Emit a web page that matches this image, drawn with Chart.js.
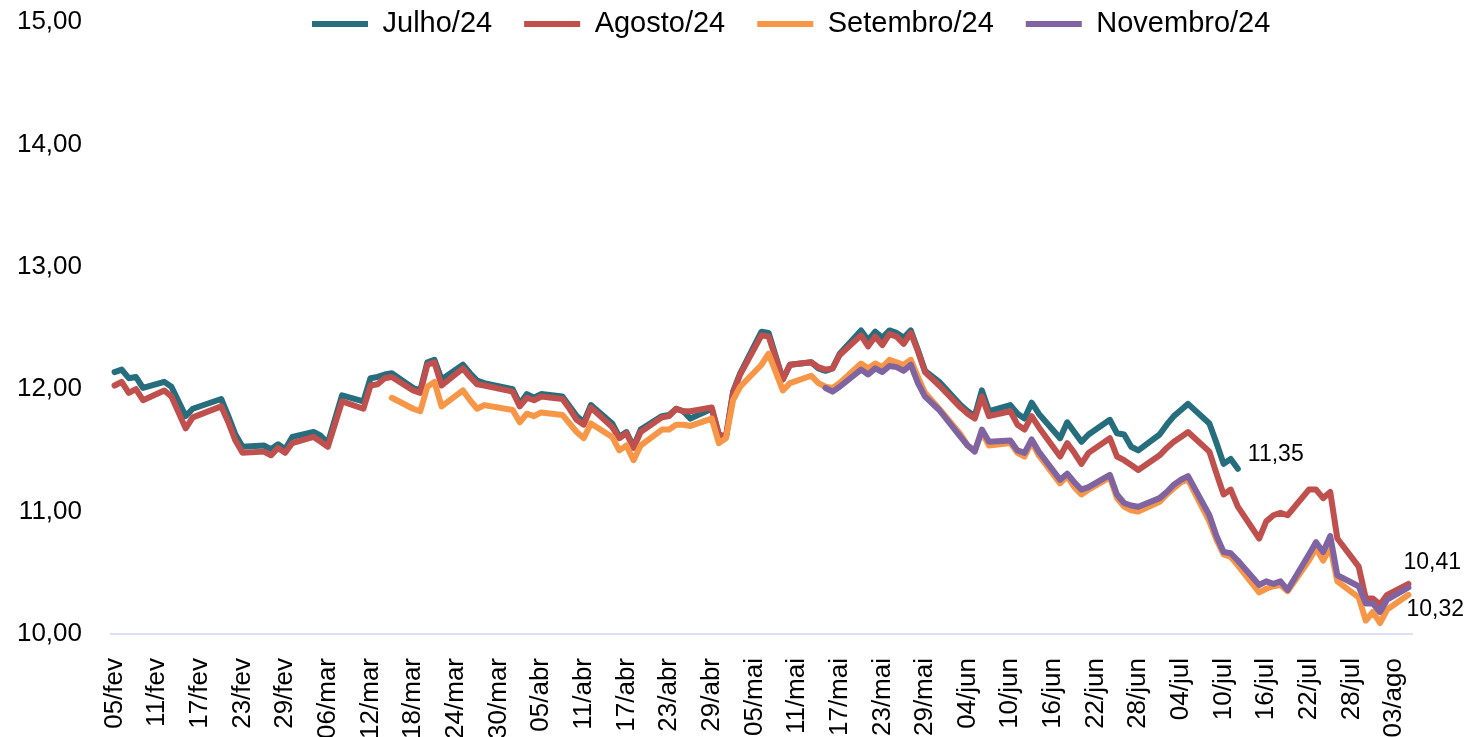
<!DOCTYPE html>
<html>
<head>
<meta charset="utf-8">
<script src="https://cdn.jsdelivr.net/npm/chart.js@4.4.1/dist/chart.umd.min.js"></script>
<style>
  html, body { margin: 0; padding: 0; background: #fff; }
</style>
</head>
<body>
<canvas id="grafico" width="1468" height="737"></canvas>
<script>
// eixo de datas corridas: 05/fev a 05/ago de 2024
const meses = ['jan', 'fev', 'mar', 'abr', 'mai', 'jun', 'jul', 'ago']
const rotulosX = [
  '05/fev', '11/fev', '17/fev', '23/fev', '29/fev', '06/mar', '12/mar', '18/mar',
  '24/mar', '30/mar', '05/abr', '11/abr', '17/abr', '23/abr', '29/abr', '05/mai',
  '11/mai', '17/mai', '23/mai', '29/mai', '04/jun', '10/jun', '16/jun', '22/jun',
  '28/jun', '04/jul', '10/jul', '16/jul', '22/jul', '28/jul', '03/ago'
]
const rotulosY = [10, 11, 12, 13, 14, 15]

const datas = [
  '05/fev', '06/fev', '07/fev', '08/fev', '09/fev', '12/fev', '13/fev', '15/fev', '16/fev', '20/fev', '21/fev', '22/fev', '23/fev', '26/fev', '27/fev', '28/fev', '29/fev',
  '01/mar', '04/mar', '05/mar', '06/mar', '08/mar', '11/mar', '12/mar', '13/mar', '14/mar', '15/mar', '18/mar', '19/mar', '20/mar', '21/mar', '22/mar', '25/mar', '26/mar', '27/mar', '28/mar',
  '01/abr', '02/abr', '03/abr', '04/abr', '05/abr', '08/abr', '09/abr', '10/abr', '11/abr', '12/abr', '15/abr', '16/abr', '17/abr', '18/abr', '19/abr', '22/abr', '23/abr', '24/abr', '25/abr', '26/abr', '29/abr', '30/abr',
  '01/mai', '02/mai', '03/mai', '06/mai', '07/mai', '09/mai', '10/mai', '13/mai', '14/mai', '15/mai', '16/mai', '17/mai', '20/mai', '21/mai', '22/mai', '23/mai', '24/mai', '25/mai', '26/mai', '27/mai', '28/mai', '29/mai', '31/mai',
  '03/jun', '04/jun', '05/jun', '06/jun', '07/jun', '10/jun', '11/jun', '12/jun', '13/jun', '14/jun', '17/jun', '18/jun', '19/jun', '20/jun', '21/jun', '24/jun', '25/jun', '26/jun', '27/jun', '28/jun',
  '01/jul', '02/jul', '03/jul', '04/jul', '05/jul', '08/jul', '09/jul', '10/jul', '11/jul', '12/jul', '15/jul', '16/jul', '17/jul', '18/jul', '19/jul', '22/jul', '23/jul', '24/jul', '25/jul', '26/jul', '29/jul', '30/jul', '31/jul',
  '01/ago', '02/ago', '05/ago'
]

const julho = [
  12.14, 12.16, 12.09, 12.10, 12.01, 12.06, 12.02, 11.78, 11.84, 11.92, 11.78, 11.63, 11.53, 11.54, 11.51, 11.55, 11.51,
  11.61, 11.65, 11.62, 11.56, 11.95, 11.90, 12.09, 12.10, 12.12, 12.13, 12.01, 11.99, 12.22, 12.24, 12.08, 12.20, 12.13, 12.07, 12.05,
  12.00, 11.88, 11.96, 11.93, 11.96, 11.94, 11.86, 11.78, 11.73, 11.87, 11.72, 11.61, 11.65, 11.53, 11.67, 11.78, 11.79, 11.84, 11.82, 11.76, 11.84, 11.63,
  11.61, 11.98, 12.13, 12.47, 12.46, 12.08, 12.20, 12.22, 12.17, 12.15, 12.17, 12.29, 12.48, 12.40, 12.47, 12.42, 12.48, 12.46, 12.42, 12.48, 12.32, 12.15, 12.06,
  11.87, 11.82, 11.78, 11.99, 11.82, 11.87, 11.80, 11.76, 11.89, 11.80, 11.60, 11.73, 11.65, 11.57, 11.63, 11.75, 11.64, 11.63, 11.53, 11.50,
  11.63, 11.71, 11.78, 11.83, 11.88, 11.72, 11.56, 11.39, 11.43, 11.35, null, null, null, null, null, null, null, null, null, null, null, null, null,
  null, null, null
]

const agosto = [
  12.03, 12.06, 11.97, 12.00, 11.91, 11.99, 11.94, 11.68, 11.77, 11.86, 11.73, 11.58, 11.48, 11.49, 11.46, 11.52, 11.48,
  11.56, 11.61, 11.57, 11.53, 11.90, 11.84, 12.03, 12.04, 12.09, 12.10, 11.99, 11.97, 12.20, 12.22, 12.03, 12.17, 12.10, 12.04, 12.03,
  11.98, 11.86, 11.93, 11.91, 11.94, 11.92, 11.84, 11.75, 11.71, 11.85, 11.69, 11.60, 11.64, 11.52, 11.65, 11.77, 11.78, 11.84, 11.82, 11.82, 11.85, 11.63,
  11.61, 11.97, 12.12, 12.44, 12.43, 12.08, 12.20, 12.22, 12.18, 12.16, 12.17, 12.28, 12.44, 12.35, 12.43, 12.36, 12.45, 12.43, 12.37, 12.46, 12.31, 12.14, 12.03,
  11.85, 11.80, 11.76, 11.94, 11.78, 11.82, 11.71, 11.67, 11.78, 11.69, 11.45, 11.56, 11.48, 11.39, 11.48, 11.60, 11.45, 11.42, 11.38, 11.34,
  11.46, 11.52, 11.57, 11.61, 11.65, 11.49, 11.31, 11.14, 11.18, 11.04, 10.78, 10.92, 10.97, 10.99, 10.97, 11.18, 11.18, 11.11, 11.16, 10.78, 10.55, 10.29, 10.29,
  10.24, 10.32, 10.41
]

const setembro = [
  null, null, null, null, null, null, null, null, null, null, null, null, null, null, null, null, null,
  null, null, null, null, null, null, null, null, null, 11.93, 11.84, 11.82, 12.02, 12.06, 11.86, 11.99, 11.91, 11.84, 11.87,
  11.83, 11.73, 11.80, 11.78, 11.81, 11.79, 11.72, 11.65, 11.60, 11.72, 11.61, 11.50, 11.54, 11.42, 11.54, 11.67, 11.67, 11.71, 11.71, 11.70, 11.76, 11.56,
  11.60, 11.91, 12.02, 12.20, 12.29, 11.99, 12.05, 12.11, 12.05, 12.02, 12.01, 12.05, 12.21, 12.17, 12.21, 12.18, 12.24, 12.22, 12.20, 12.24, 12.10, 11.97, 11.84,
  11.63, 11.54, 11.50, 11.65, 11.54, 11.56, 11.48, 11.45, 11.57, 11.46, 11.23, 11.29, 11.20, 11.14, 11.18, 11.28, 11.11, 11.04, 11.01, 11.00,
  11.08, 11.14, 11.19, 11.24, 11.26, 10.92, 10.77, 10.65, 10.63, 10.56, 10.34, 10.37, 10.39, 10.40, 10.35, 10.60, 10.70, 10.60, 10.71, 10.43, 10.30, 10.11, 10.18,
  10.09, 10.20, 10.32
]

const novembro = [
  null, null, null, null, null, null, null, null, null, null, null, null, null, null, null, null, null,
  null, null, null, null, null, null, null, null, null, null, null, null, null, null, null, null, null, null, null,
  null, null, null, null, null, null, null, null, null, null, null, null, null, null, null, null, null, null, null, null, null, null,
  null, null, null, null, null, null, null, null, null, 12.01, 11.98, 12.02, 12.16, 12.12, 12.17, 12.14, 12.19, 12.18, 12.15, 12.20, 12.05, 11.94, 11.83,
  11.61, 11.54, 11.49, 11.67, 11.57, 11.58, 11.50, 11.48, 11.59, 11.49, 11.26, 11.31, 11.24, 11.18, 11.20, 11.30, 11.14, 11.07, 11.05, 11.04,
  11.11, 11.16, 11.22, 11.26, 11.29, 10.97, 10.80, 10.67, 10.66, 10.60, 10.40, 10.43, 10.41, 10.43, 10.36, 10.65, 10.75, 10.67, 10.80, 10.48, 10.39, 10.25, 10.25,
  10.18, 10.28, 10.38
]

// todos os dias corridos do periodo, como no eixo de datas do Excel
const categorias = []
for (let d = new Date(2024, 1, 5); d <= new Date(2024, 7, 5); d.setDate(d.getDate() + 1)) {
  categorias.push(String(d.getDate()).padStart(2, '0') + '/' + meses[d.getMonth()])
}

const fonte = '"Liberation Sans", Arial, sans-serif'
const transparente = 'rgba(0,0,0,0)'
const formatar = (v) => v.toFixed(2).replace('.', ',')

const serie = (label, valores, cor, order, rotulo) => ({
  label,
  data: datas.map((x, i) => ({ x, y: valores[i] })),
  borderColor: cor,
  backgroundColor: cor,
  borderWidth: 6,
  borderCapStyle: 'round',
  borderJoinStyle: 'round',
  pointRadius: 0,
  pointHoverRadius: 0,
  tension: 0,
  spanGaps: true,
  order,
  rotulo
})

// valor final escrito ao lado da ultima ponta da serie
const rotulosFinais = {
  id: 'rotulosFinais',
  afterDatasetsDraw(chart) {
    const { ctx } = chart
    chart.data.datasets.forEach((ds, i) => {
      if (!ds.rotulo) return
      let k = ds.data.length - 1
      while (k > 0 && ds.data[k].y == null) k--
      const pt = chart.getDatasetMeta(i).data[k]
      ctx.save()
      ctx.font = '23px ' + fonte
      ctx.fillStyle = '#000'
      ctx.textAlign = 'left'
      ctx.textBaseline = 'middle'
      ctx.fillText(formatar(ds.data[k].y), pt.x + ds.rotulo.dx, pt.y + ds.rotulo.dy)
      ctx.restore()
    })
  }
}

// legenda por cima da area do grafico, como no original
const legendaSobreposta = {
  id: 'legendaSobreposta',
  beforeDraw(chart) {
    const lg = chart.legend
    const pad = lg.options.labels.padding
    lg.left = 312 - pad
    lg.right = chart.width
    lg.top = 24 - pad - 14.5
    lg.bottom = 80
  }
}

new Chart(document.getElementById('grafico'), {
  type: 'line',
  data: {
    labels: categorias,
    datasets: [
      serie('Julho/24', julho, '#266E7D', 4, { dx: 10, dy: -14 }),
      serie('Agosto/24', agosto, '#C0504D', 3, { dx: -5, dy: -21 }),
      serie('Setembro/24', setembro, '#F79646', 2, { dx: -2, dy: 15 }),
      serie('Novembro/24', novembro, '#8064A2', 1, null)
    ]
  },
  options: {
    responsive: false,
    animation: false,
    devicePixelRatio: 1,
    layout: { padding: { left: 17, right: 56, top: 21, bottom: 0 } },
    plugins: {
      legend: {
        position: 'top',
        align: 'start',
        maxHeight: 1,
        labels: {
          usePointStyle: true,
          pointStyle: 'line',
          pointStyleWidth: 56,
          padding: 32,
          color: '#000',
          font: { family: fonte, size: 29 },
          sort: (a, b) => a.datasetIndex - b.datasetIndex
        }
      },
      tooltip: { enabled: false }
    },
    scales: {
      x: {
        type: 'category',
        offset: true,
        grid: { display: true, drawOnChartArea: false, drawTicks: true, tickLength: 24, color: transparente },
        border: { display: true, color: '#D9E1F2', width: 2 },
        afterFit: (axis) => { axis.height = 103 },
        ticks: {
          autoSkip: false,
          minRotation: 90,
          maxRotation: 90,
          padding: 0,
          color: '#000',
          font: { family: fonte, size: 26 },
          callback: (v, i) => (rotulosX.includes(categorias[i]) ? categorias[i] : null)
        }
      },
      y: {
        min: rotulosY[0],
        max: rotulosY[rotulosY.length - 1],
        afterBuildTicks: (axis) => { axis.ticks = rotulosY.map((value) => ({ value })) },
        afterFit: (axis) => { axis.width = 94 },
        grid: { display: true, drawOnChartArea: false, drawTicks: true, tickLength: 29, color: transparente },
        border: { display: false },
        ticks: {
          padding: 0,
          color: '#000',
          font: { family: fonte, size: 26 },
          callback: (v) => formatar(v)
        }
      }
    }
  },
  plugins: [rotulosFinais, legendaSobreposta]
})
</script>
</body>
</html>
